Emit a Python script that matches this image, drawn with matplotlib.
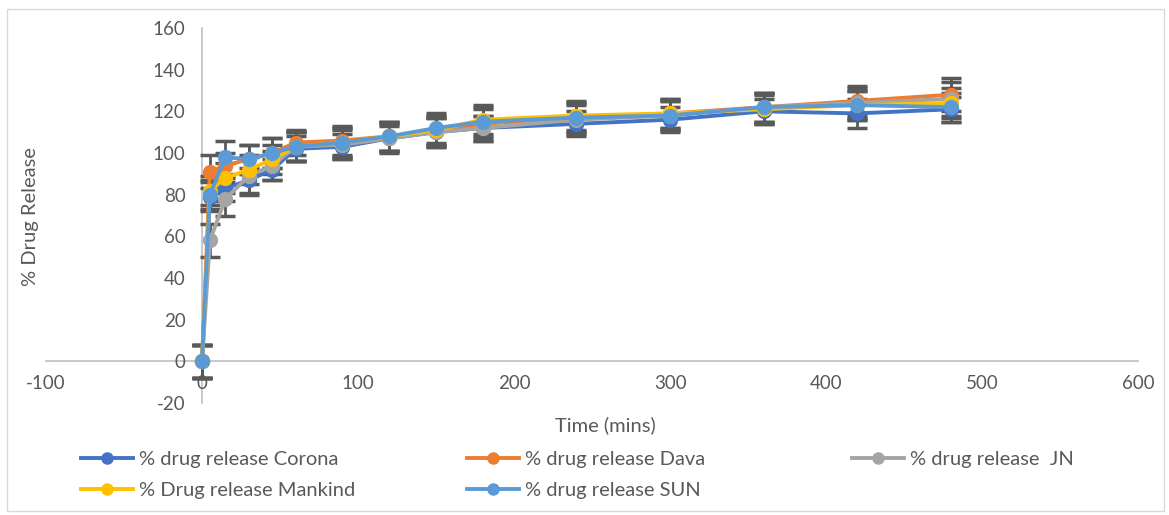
import matplotlib.pyplot as plt

plt.rcParams['font.family'] = ['Lato', 'DejaVu Sans']
plt.rcParams['axes.unicode_minus'] = False

time = [0, 5, 15, 30, 45, 60, 90, 120, 150, 180, 240, 300, 360, 420, 480]

corona = [0, 79, 83, 87, 92, 102, 103, 107, 110, 112, 114, 116, 120, 119, 121]
dava = [0, 91, 94, 97, 100, 105, 106, 108, 111, 114, 117, 119, 122, 125, 128]
jn = [0, 58, 78, 89, 94, 103, 104, 107, 110, 112, 116, 118, 122, 124, 126]
mankind = [0, 82, 88, 92, 97, 103, 105, 108, 111, 116, 118, 119, 121, 123, 124]
sun = [0, 80, 98, 97, 100, 103, 105, 108, 112, 115, 117, 118, 122, 123, 122]

corona_err = [8, 7, 6, 6, 5, 6, 6, 6, 7, 6, 6, 6, 6, 7, 6]
dava_err = [8, 8, 6, 7, 7, 6, 7, 7, 7, 7, 7, 7, 7, 7, 8]
jn_err = [8, 8, 8, 9, 7, 7, 7, 7, 7, 6, 7, 7, 7, 7, 8]
mankind_err = [8, 7, 7, 7, 7, 7, 7, 7, 7, 7, 7, 7, 7, 7, 7]
sun_err = [8, 7, 8, 7, 7, 7, 7, 7, 7, 7, 7, 7, 7, 7, 7]

labels = ['% drug release Corona', '% drug release Dava', '% drug release  JN',
          '% Drug release Mankind', '% drug release SUN']
colors = ['#4472C4', '#ED7D31', '#A5A5A5', '#FFC000', '#5B9BD5']
series = [corona, dava, jn, mankind, sun]
errors = [corona_err, dava_err, jn_err, mankind_err, sun_err]

fig = plt.figure(figsize=(11.69, 5.15), dpi=100)
ax = fig.add_axes([0.0394, 0.2175, 0.9341, 0.7281])

text_color = '#595959'

for vals, err in zip(series, errors):
    ax.errorbar(time, vals, yerr=err, fmt='none', ecolor='#595959',
                elinewidth=2, capsize=7, capthick=2.5, zorder=2)

handles = []
for vals, col, lab in zip(series, colors, labels):
    ln, = ax.plot(time, vals, color=col, lw=2.8, marker='o', markersize=10,
                  label=lab, zorder=3)
    handles.append(ln)

ax.set_xlim(-100, 600)
ax.set_ylim(-20, 160)
ax.set_xticks(range(-100, 601, 100))
ax.set_yticks(range(-20, 161, 20))

ax.spines['left'].set_position(('data', 0))
ax.spines['bottom'].set_position(('data', 0))
ax.spines['top'].set_visible(False)
ax.spines['right'].set_visible(False)
for s in ['left', 'bottom']:
    ax.spines[s].set_color('#BFBFBF')
    ax.spines[s].set_linewidth(1.2)
    ax.spines[s].set_zorder(1)

ax.tick_params(axis='both', length=0, labelsize=13.5, colors=text_color)
ax.tick_params(axis='x', pad=10)
ax.tick_params(axis='y', pad=12)

fig.text(0.518, 0.175, 'Time (mins)', ha='center', va='center',
         fontsize=14.5, color=text_color)
fig.text(0.026, 0.58, '% Drug Release', ha='center', va='center',
         rotation=90, fontsize=14.5, color=text_color)

# one legend per column so the columns sit where they do in the original
columns = [[0, 3], [1, 4], [2]]
col_x = [81, 467, 852]
for idx, x0 in zip(columns, col_x):
    leg = fig.legend([handles[i] for i in idx], [labels[i] for i in idx],
                     loc='upper left', bbox_to_anchor=(x0 / 1169, 0.124),
                     frameon=False, fontsize=14.5, handlelength=2.6,
                     handletextpad=0.3, labelspacing=0.68,
                     borderaxespad=0, borderpad=0, markerscale=0.8)
    for t in leg.get_texts():
        t.set_color(text_color)

# outer frame
fig.patches.append(plt.Rectangle((0.006, 0.008), 0.99, 0.975, transform=fig.transFigure,
                                 fill=False, edgecolor='#D9D9D9', lw=1))

fig.savefig('out.png', dpi=100)
